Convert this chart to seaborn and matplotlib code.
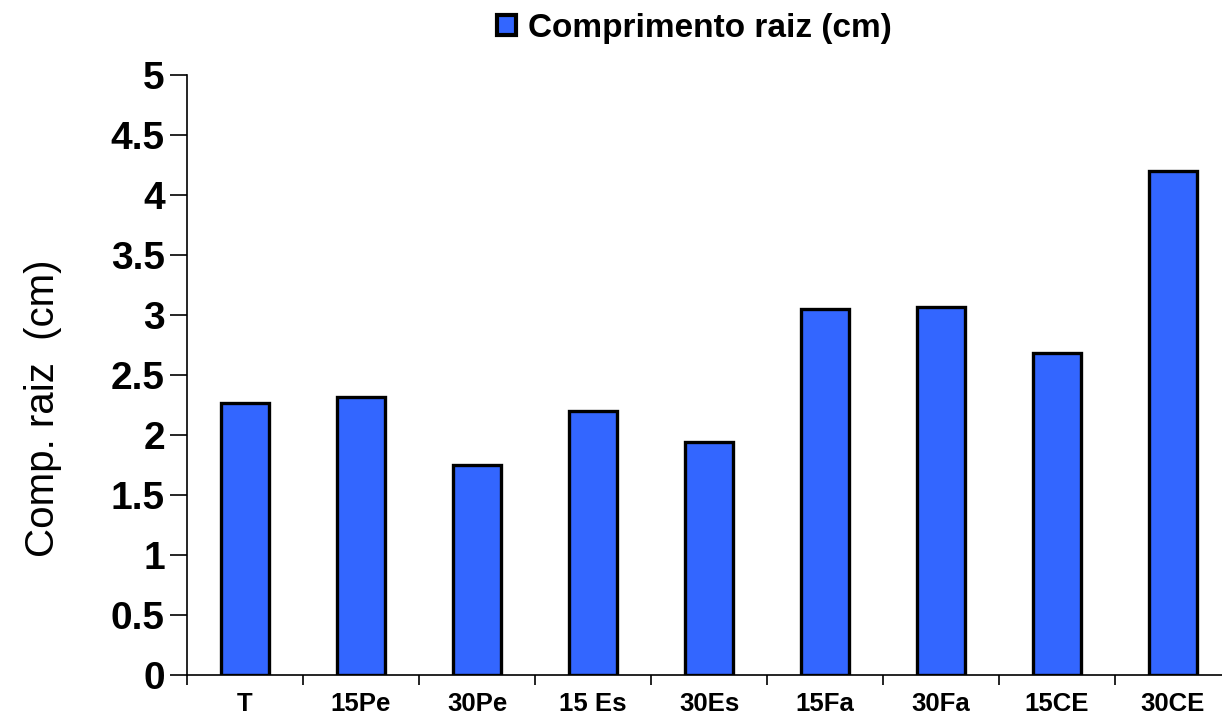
import matplotlib
matplotlib.use("Agg")
import matplotlib.pyplot as plt
import seaborn as sns
import pandas as pd
import numpy as np
from matplotlib.ticker import FixedLocator

# Root length per treatment
categories = ["T", "15Pe", "30Pe", "15 Es", "30Es", "15Fa", "30Fa", "15CE", "30CE"]
root_length = [2.27, 2.32, 1.75, 2.20, 1.94, 3.05, 3.07, 2.68, 4.20]
y_ticks = [0, 0.5, 1, 1.5, 2, 2.5, 3, 3.5, 4, 4.5, 5]
series_name = "Comprimento raiz (cm)"
y_label = "Comp. raiz  (cm)"

sns.set_theme(style="white")
plt.rcParams["font.family"] = ["Liberation Sans", "DejaVu Sans"]
plt.rcParams["text.color"] = "black"
plt.rcParams["axes.labelcolor"] = "black"
plt.rcParams["xtick.color"] = "black"
plt.rcParams["ytick.color"] = "black"

df = pd.DataFrame({"Tratamento": categories, "valor": root_length})

W, H = 1222, 721
fig = plt.figure(figsize=(W / 100, H / 100), dpi=100)
ax = fig.add_axes([187 / W, 46 / H, (1231 - 187) / W, (675 - 75) / H])

sns.barplot(data=df, x="Tratamento", y="valor", color="#3366FF", saturation=1,
            edgecolor="black", linewidth=2.4, width=0.42, ax=ax,
            label=series_name)

ax.set_xlim(-0.5, len(categories) - 0.5)
ax.set_ylim(0, 5)
ax.set_yticks(y_ticks)
ax.set_yticklabels([f"{v:g}" for v in y_ticks], fontsize=28, fontweight="bold")
ax.tick_params(axis="y", direction="out", length=12, width=1.2, color="black",
               left=True, pad=4)

# category separators as minor ticks, labels at centres without ticks
ax.xaxis.set_minor_locator(FixedLocator(np.arange(-0.5, len(categories), 1.0)))
ax.tick_params(axis="x", which="major", length=0, pad=12, labelsize=18.5)
ax.tick_params(axis="x", which="minor", direction="out", length=7, width=1.2,
               color="black", bottom=True)
for lbl in ax.get_xticklabels():
    lbl.set_fontweight("bold")

ax.set_xlabel("")
ax.set_ylabel(y_label, fontsize=29)
ax.yaxis.set_label_coords(-0.12, 0.445)

for side in ["top", "right"]:
    ax.spines[side].set_visible(False)
for side in ["left", "bottom"]:
    ax.spines[side].set_color("black")
    ax.spines[side].set_linewidth(1.2)

leg = ax.legend(loc="center", bbox_to_anchor=(0.486, 1.078), frameon=False,
                prop={"size": 24, "weight": "bold"}, handlelength=0.55,
                handleheight=0.55, handletextpad=0.36, borderaxespad=0)
for h in leg.legend_handles:
    h.set_linewidth(3)

fig.savefig("out.png", dpi=100, facecolor="white")
